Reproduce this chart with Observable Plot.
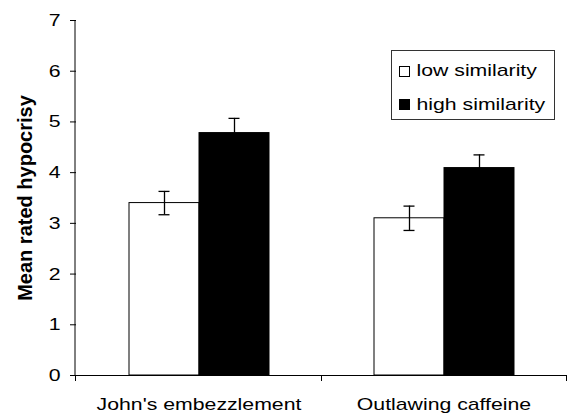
<!DOCTYPE html>
<html>
<head>
<meta charset="utf-8">
<script src="https://cdn.jsdelivr.net/npm/d3@7"></script>
<script src="https://cdn.jsdelivr.net/npm/@observablehq/plot@0.6"></script>
<style>
  html, body { margin: 0; padding: 0; background: white; }
  #chart { width: 568px; height: 417px; }
</style>
</head>
<body>
<div id="chart"></div>
<script>
const categories = ["John's embezzlement", "Outlawing caffeine"];
const seriesNames = ["low similarity", "high similarity"];
const lowMeans = [3.40, 3.10];
const highMeans = [4.78, 4.09];
const lowErr = [0.23, 0.24];
const highErr = [0.29, 0.26];
const yTicks = [0, 1, 2, 3, 4, 5, 6, 7];
const yTitle = "Mean rated hypocrisy";

const data = categories.flatMap((c, i) => [
  {cat: c, series: seriesNames[0], value: lowMeans[i], err: lowErr[i]},
  {cat: c, series: seriesNames[1], value: highMeans[i], err: highErr[i]}
]);

const FONT = "'Liberation Sans', Arial, sans-serif";
const STRETCH = 1.25;

const chart = Plot.plot({
  width: 568,
  height: 417,
  marginLeft: 75,
  marginRight: 2,
  marginTop: 20,
  marginBottom: 42,
  style: {fontFamily: FONT, fontSize: "17px", background: "white", color: "black"},
  fx: {domain: categories, padding: 0, label: null, axis: null},
  x: {domain: seriesNames, paddingInner: 0, paddingOuter: 0.729, axis: null},
  y: {domain: [0, 7], label: null},
  color: {domain: seriesNames, range: ["white", "black"]},
  marks: [
    Plot.barY(data, {fx: "cat", x: "series", y: "value", fill: "series", stroke: "black", strokeWidth: 1}),
    Plot.ruleX(data, {fx: "cat", x: "series", y1: d => d.value - d.err, y2: d => d.value + d.err, stroke: "black", strokeWidth: 1.3}),
    Plot.tickY(data, {fx: "cat", x: "series", y: d => d.value + d.err, insetLeft: 29.5, insetRight: 29.5, stroke: "black", strokeWidth: 1.3}),
    Plot.tickY(data, {fx: "cat", x: "series", y: d => d.value - d.err, insetLeft: 29.5, insetRight: 29.5, stroke: "black", strokeWidth: 1.3}),
    Plot.ruleY([0], {stroke: "black", strokeWidth: 1}),
    Plot.axisY({ticks: yTicks, tickSize: 6, tickPadding: 10, tickFormat: d => String(d), fontSize: 17, label: null}),
    Plot.axisFx({anchor: "bottom", tickSize: 0, tickPadding: 22, fontSize: 17, label: null}),
    Plot.text([{cat: categories[0], t: yTitle}], {
      fx: "cat", text: "t", frameAnchor: "left", textAnchor: "middle", rotate: -90,
      dx: -51, fontWeight: "bold", fontSize: 20, fill: "black"
    })
  ]
});

document.getElementById("chart").appendChild(chart);

// post-process: horizontal stretch of tick labels, axis line, category boundary ticks, legend
const svg = d3.select(chart);
svg.selectAll('g[aria-label="y-axis tick label"] text, g[aria-label="fx-axis tick label"] text')
  .attr("transform", function () { return (this.getAttribute("transform") || "") + ` scale(${STRETCH},1)`; });

const yS = chart.scale("y");
const fxS = chart.scale("fx");
const y0 = yS.apply(0), yTop = yS.apply(yTicks[yTicks.length - 1]);
const x0 = fxS.range[0], x1 = fxS.range[1];
const step = (x1 - x0) / categories.length;

svg.append("line")
  .attr("x1", x0).attr("x2", x0).attr("y1", yTop).attr("y2", y0)
  .attr("stroke", "black").attr("stroke-width", 1);
for (let i = 0; i <= categories.length; i++) {
  const xb = Math.round(x0 + i * step) + 0.5;
  svg.append("line")
    .attr("x1", xb).attr("x2", xb).attr("y1", y0).attr("y2", y0 + 6)
    .attr("stroke", "black").attr("stroke-width", 1);
}

// legend
const lg = svg.append("g").attr("transform", "translate(391.5,50.5)");
lg.append("rect").attr("width", 163).attr("height", 69)
  .attr("fill", "white").attr("stroke", "#333").attr("stroke-width", 1);
seriesNames.forEach((s, i) => {
  lg.append("rect").attr("x", 8).attr("y", 16 + 33 * i).attr("width", 10).attr("height", 10)
    .attr("fill", i === 0 ? "white" : "black").attr("stroke", "black").attr("stroke-width", 1);
  lg.append("text").attr("transform", `translate(25,${25.5 + 33.5 * i}) scale(${STRETCH},1)`)
    .attr("text-anchor", "start")
    .attr("font-family", FONT).attr("font-size", 17).attr("fill", "black").text(s);
});
</script>
</body>
</html>
